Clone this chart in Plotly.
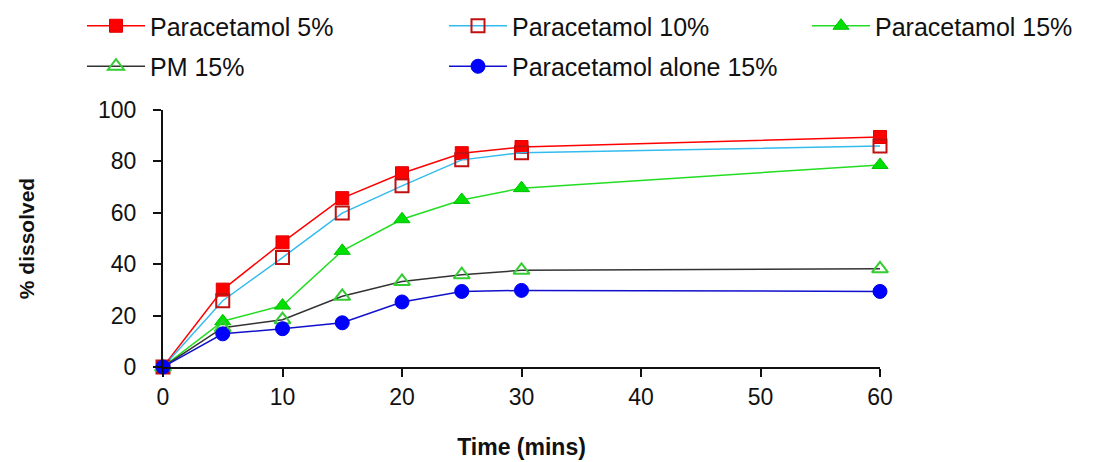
import plotly.graph_objects as go

time_min = [0, 5, 10, 15, 20, 25, 30, 60]
para_5 = [0, 30.1, 48.5, 65.7, 75.4, 83.2, 85.6, 89.5]
para_10 = [0, 25.8, 42.6, 59.9, 70.5, 80.6, 83.4, 86.0]
para_15 = [0, 17.8, 23.9, 45.2, 57.5, 65.0, 69.6, 78.6]
pm_15 = [0, 15.3, 18.4, 27.5, 33.3, 35.9, 37.6, 38.2]
alone_15 = [0, 12.9, 14.9, 17.2, 25.3, 29.4, 29.8, 29.4]

FONT = "Liberation Sans, Arial, sans-serif"

series = [
    ("Paracetamol 5%", para_5, "#FF0000", dict(symbol="square", color="#FF0000", size=13,
                                                 line=dict(color="#E00000", width=1)), "legend", "g1"),
    ("Paracetamol 10%", para_10, "#33BBEE", dict(symbol="square-open", color="#C01010", size=13,
                                                  line=dict(color="#C01010", width=2)), "legend2", "g2"),
    ("Paracetamol 15%", para_15, "#22DD22", dict(symbol="triangle-up", color="#00E000", size=14,
                                                  line=dict(color="#00C000", width=1)), "legend3", "g3"),
    ("PM 15%", pm_15, "#333333", dict(symbol="triangle-up-open", color="#33CC33", size=14,
                                       line=dict(color="#33CC33", width=2)), "legend", "g4"),
    ("Paracetamol alone 15%", alone_15, "#1010CC", dict(symbol="circle", color="#0000FF", size=14,
                                                        line=dict(color="#0000EE", width=1)), "legend2", "g5"),
]

fig = go.Figure()
for name, vals, lc, mk, lg, grp in series:
    fig.add_trace(go.Scatter(
        x=time_min, y=vals, name=name, mode="lines+markers",
        line=dict(color=lc, width=1.5), marker=mk, cliponaxis=False,
        legend=lg, legendgroup=grp,
    ))

PL, PT, PW, PH = 163, 110, 717, 257


def px_x(p):
    return (p - PL) / PW


def px_y(p):
    return (PT + PH - p) / PH


leg_common = dict(orientation="v", xref="paper", yref="paper", yanchor="top",
                  xanchor="left", font=dict(family=FONT, size=25, color="#111111"),
                  bgcolor="rgba(0,0,0,0)", tracegroupgap=5, itemclick=False, itemwidth=58)

fig.update_layout(
    width=1098, height=462,
    margin=dict(l=PL, r=1098 - PL - PW, t=PT, b=462 - PT - PH, autoexpand=False),
    paper_bgcolor="white", plot_bgcolor="white",
    font=dict(family=FONT, color="#111111"),
    legend=dict(x=px_x(82), y=px_y(3), **leg_common),
    legend2=dict(x=px_x(444), y=px_y(3), **leg_common),
    legend3=dict(x=px_x(807), y=px_y(3), **leg_common),
    xaxis=dict(
        range=[0, 60], tickmode="array", tickvals=[0, 10, 20, 30, 40, 50, 60],
        ticks="outside", ticklen=8, tickwidth=1.5, tickcolor="#111111",
        showline=True, linecolor="#111111", linewidth=2, showgrid=False, zeroline=False,
        tickfont=dict(family=FONT, size=23, color="#111111"), automargin=False,
        title=dict(text="<b>Time (mins)</b>", font=dict(family=FONT, size=23, color="#111111"),
                   standoff=30),
    ),
    yaxis=dict(
        range=[0, 100], tickmode="array", tickvals=[0, 20, 40, 60, 80, 100],
        ticks="outside", ticklen=8, tickwidth=1.5, tickcolor="#111111",
        showline=True, linecolor="#111111", linewidth=2, showgrid=False, zeroline=False,
        tickfont=dict(family=FONT, size=23, color="#111111"), ticklabelstandoff=12,
        automargin=False,
        title=dict(text="<b>% dissolved</b>", font=dict(family=FONT, size=21, color="#111111"),
                   standoff=58),
    ),
)

fig.write_html("out.html")
